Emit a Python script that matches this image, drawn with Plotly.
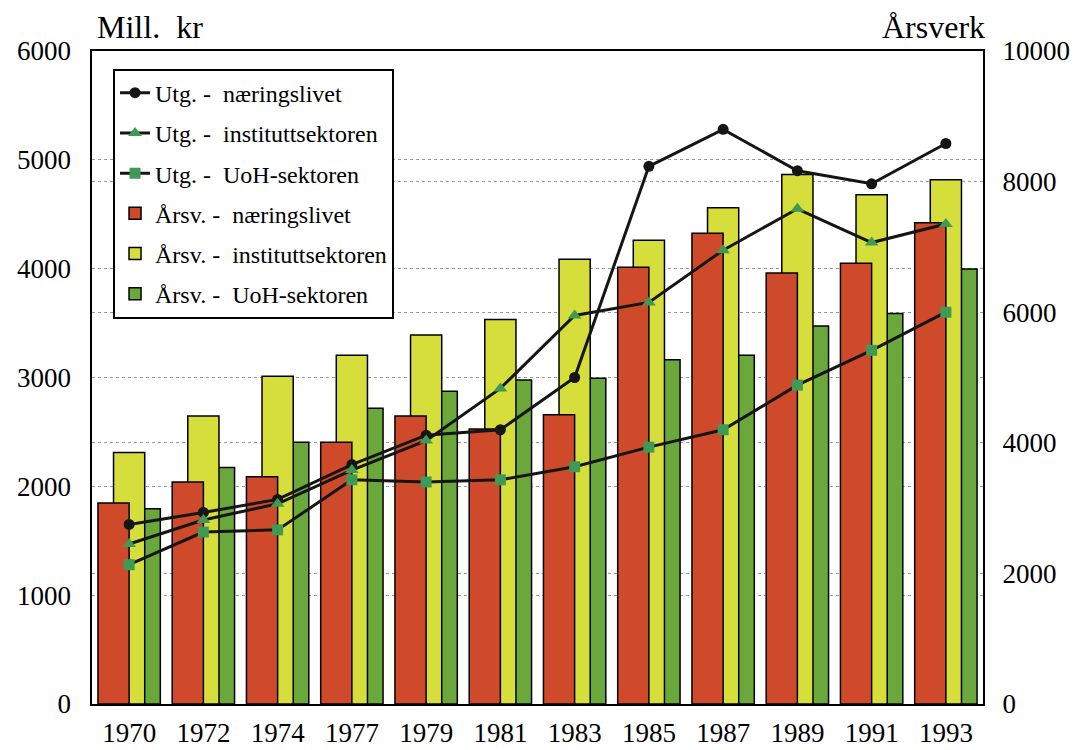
import plotly.graph_objects as go

years = ["1970", "1972", "1974", "1977", "1979", "1981", "1983", "1985", "1987", "1989", "1991", "1993"]

# Utgifter (Mill. kr) - left axis
utg_naering = [1650, 1760, 1880, 2200, 2470, 2520, 3000, 4940, 5280, 4900, 4780, 5150]
utg_institutt = [1470, 1690, 1840, 2150, 2420, 2900, 3570, 3690, 4170, 4550, 4240, 4410]
utg_uoh = [1280, 1580, 1600, 2060, 2040, 2060, 2180, 2360, 2520, 2930, 3250, 3600]

# Årsverk - right axis
arsv_naering = [3080, 3400, 3480, 4010, 4410, 4210, 4430, 6690, 7210, 6600, 6750, 7370]
arsv_institutt = [3850, 4410, 5020, 5340, 5650, 5890, 6810, 7100, 7600, 8110, 7800, 8030]
arsv_uoh = [2990, 3620, 4010, 4530, 4790, 4960, 4990, 5270, 5340, 5790, 5980, 6660]

left_ticks = [0, 1000, 2000, 3000, 4000, 5000, 6000]
right_ticks = [0, 2000, 4000, 6000, 8000, 10000]
LEFT_MAX = 6000
RIGHT_MAX = 10000

RED = "#cf4a2b"
YELLOW = "#d6de3c"
GREEN = "#6aa83c"
MGREEN = "#3f9a55"
FONT = "Liberation Serif, Times New Roman, serif"
NB = "\u00a0"

fig = go.Figure()

bw = 0.42
# Bars drawn back to front: green, yellow, red
fig.add_trace(go.Bar(x=years, y=arsv_uoh, name=f"Årsv.{NB}-{NB*2}UoH-sektoren",
                     marker=dict(color=GREEN, line=dict(color="black", width=1.5)),
                     width=bw, offset=0, yaxis="y", legendrank=6, legendgroup="g6"))
fig.add_trace(go.Bar(x=years, y=arsv_institutt, name=f"Årsv.{NB}-{NB*2}instituttsektoren",
                     marker=dict(color=YELLOW, line=dict(color="black", width=1.5)),
                     width=bw, offset=-bw / 2, yaxis="y", legendrank=5, legendgroup="g5"))
fig.add_trace(go.Bar(x=years, y=arsv_naering, name=f"Årsv.{NB}-{NB*2}næringslivet",
                     marker=dict(color=RED, line=dict(color="black", width=1.5)),
                     width=bw, offset=-bw, yaxis="y", legendrank=4, legendgroup="g4"))

fig.add_trace(go.Scatter(x=years, y=utg_naering, name=f"Utg.{NB}-{NB*2}næringslivet",
                         mode="lines+markers", line=dict(color="#151515", width=3),
                         marker=dict(symbol="circle", size=11, color="#151515"),
                         yaxis="y2", legendrank=1, legendgroup="g1"))
fig.add_trace(go.Scatter(x=years, y=utg_institutt, name=f"Utg.{NB}-{NB*2}instituttsektoren",
                         mode="lines+markers", line=dict(color="#151515", width=3),
                         marker=dict(symbol="triangle-up", size=12, color=MGREEN),
                         yaxis="y2", legendrank=2, legendgroup="g2"))
fig.add_trace(go.Scatter(x=years, y=utg_uoh, name=f"Utg.{NB}-{NB*2}UoH-sektoren",
                         mode="lines+markers", line=dict(color="#151515", width=3),
                         marker=dict(symbol="square", size=11, color=MGREEN),
                         yaxis="y2", legendrank=3, legendgroup="g3"))

# gridlines for the left axis expressed in right-axis units
left_grid_in_right = [v * RIGHT_MAX / LEFT_MAX for v in left_ticks[1:-1]]

fig.update_layout(
    width=1076, height=750,
    margin=dict(l=92, r=93, t=51, b=46, autoexpand=False),
    paper_bgcolor="white", plot_bgcolor="white",
    barmode="overlay",
    font=dict(family=FONT, color="black", size=27),
    xaxis=dict(type="category", showline=True, linecolor="black", linewidth=2, mirror=True,
               ticks="", tickfont=dict(size=27, family=FONT), ticklabelstandoff=4,
               range=[-0.5, 11.5], automargin=False),
    yaxis=dict(side="right", range=[0, RIGHT_MAX], tickvals=right_ticks,
               ticktext=[str(v) for v in right_ticks], showline=True, linecolor="black",
               linewidth=2, mirror=True, ticks="", tickfont=dict(size=27, family=FONT),
               ticklabelstandoff=12, showgrid=True, gridcolor="#9a9a9a", griddash="dot",
               gridwidth=1, zeroline=False, automargin=False,
               minor=dict(tickvals=left_grid_in_right, showgrid=True, gridcolor="#9a9a9a",
                          griddash="dot", gridwidth=1, ticks="")),
    yaxis2=dict(side="left", overlaying="y", range=[0, LEFT_MAX], tickvals=left_ticks,
                ticktext=[str(v) for v in left_ticks], showgrid=False, zeroline=False,
                ticks="", tickfont=dict(size=27, family=FONT), ticklabelstandoff=20,
                showline=False, automargin=False),
    legend=dict(x=0.0236, y=0.973, xanchor="left", yanchor="top",
                bgcolor="white", bordercolor="black", borderwidth=2,
                font=dict(family=FONT, size=24, color="black"),
                tracegroupgap=6, itemwidth=30, traceorder="grouped"),
    showlegend=True,
    annotations=[
        dict(text="Mill.  kr", xref="paper", yref="paper", x=0.003, y=1, xanchor="left",
             yanchor="bottom", yshift=4, showarrow=False, font=dict(size=32, family=FONT)),
        dict(text="Årsverk", xref="paper", yref="paper", x=1.004, y=1, xanchor="right",
             yanchor="bottom", yshift=4, showarrow=False, font=dict(size=32, family=FONT)),
    ],
)

fig.write_html("out.html", config={"displayModeBar": False},
               post_script="document.body.style.margin='0px';")
